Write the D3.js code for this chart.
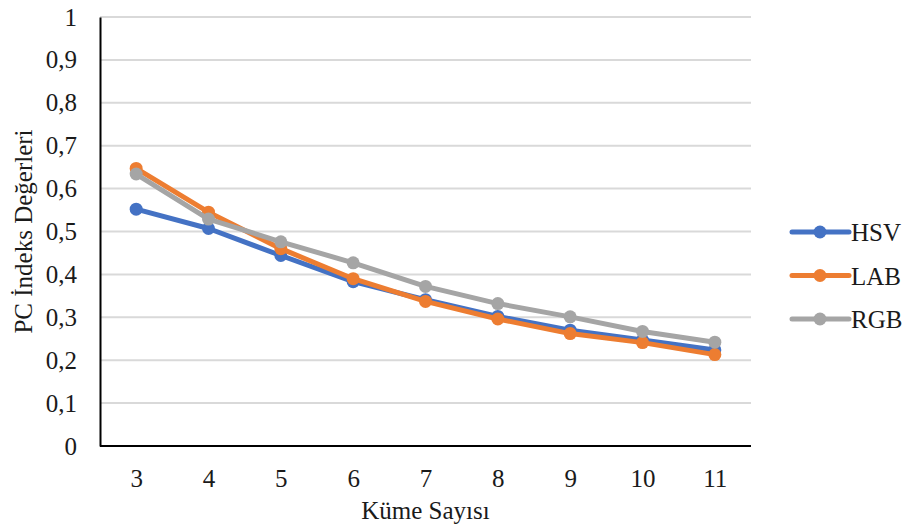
<!DOCTYPE html>
<html>
<head>
<meta charset="utf-8">
<script src="https://cdn.jsdelivr.net/npm/d3@7"></script>
<style>
  body { margin: 0; background: #fff; }
  svg { display: block; }
  svg text { font-family: "Liberation Serif", "Times New Roman", Tinos, "DejaVu Serif", "Noto Serif", serif; }
</style>
</head>
<body>
<svg id="chart" width="909" height="532"></svg>
<script>
// Cluster counts and PC index values per colour space
const categories = ["3", "4", "5", "6", "7", "8", "9", "10", "11"];
const hsv = [0.552, 0.507, 0.444, 0.383, 0.341, 0.302, 0.270, 0.247, 0.224];
const lab = [0.647, 0.545, 0.460, 0.390, 0.337, 0.296, 0.262, 0.241, 0.213];
const rgb = [0.634, 0.529, 0.476, 0.427, 0.372, 0.332, 0.301, 0.267, 0.242];
const yTicks = [0, 0.1, 0.2, 0.3, 0.4, 0.5, 0.6, 0.7, 0.8, 0.9, 1];
const seriesNames = ["HSV", "LAB", "RGB"];
const seriesColors = ["#4472C4", "#ED7D31", "#A5A5A5"];
const seriesValues = [hsv, lab, rgb];

const svg = d3.select("#chart");
const plotLeft = 100, plotRight = 751, plotTop = 17, plotBottom = 446;
const fontSize = 25;
const textColor = "#1a1a1a";

const x = d3.scalePoint().domain(categories).range([plotLeft, plotRight]).padding(0.5);
const y = d3.scaleLinear().domain([0, 1]).range([plotBottom, plotTop]);

// Horizontal gridlines
svg.append("g")
  .selectAll("line")
  .data(yTicks.filter(d => d > 0))
  .join("line")
  .attr("x1", plotLeft).attr("x2", plotRight)
  .attr("y1", d => y(d)).attr("y2", d => y(d))
  .attr("stroke", "#d9d9d9").attr("stroke-width", 2);

// Y axis
const fmt = d => d === 0 ? "0" : d === 1 ? "1" : String(d).replace(".", ",");
const yAxis = svg.append("g")
  .attr("transform", `translate(${plotLeft},0)`)
  .call(d3.axisLeft(y).tickValues(yTicks).tickFormat(fmt).tickSize(0).tickPadding(23));
yAxis.attr("font-family", null);
yAxis.select(".domain").attr("stroke", "#000").attr("stroke-width", 2);
yAxis.selectAll("text").attr("font-size", fontSize).attr("fill", textColor);

// X axis
const xAxis = svg.append("g")
  .attr("transform", `translate(0,${plotBottom})`)
  .call(d3.axisBottom(x).tickSize(0).tickPadding(23));
xAxis.attr("font-family", null);
xAxis.select(".domain").attr("stroke", "#000").attr("stroke-width", 2)
  .attr("d", `M${plotLeft},0H${plotRight}`);
xAxis.selectAll("text").attr("font-size", fontSize).attr("fill", textColor);

// Axis titles
svg.append("text")
  .attr("x", (plotLeft + plotRight) / 2).attr("y", 519)
  .attr("text-anchor", "middle").attr("font-size", fontSize).attr("fill", textColor)
  .text("Küme Sayısı");
svg.append("text")
  .attr("transform", `translate(32,${(plotTop + plotBottom) / 2}) rotate(-90)`)
  .attr("text-anchor", "middle").attr("font-size", fontSize).attr("fill", textColor)
  .text("PC İndeks Değerleri");

// Series lines and markers
const line = d3.line().x((d, i) => x(categories[i])).y(d => y(d));
seriesValues.forEach((vals, s) => {
  const g = svg.append("g");
  g.append("path")
    .datum(vals)
    .attr("d", line)
    .attr("fill", "none")
    .attr("stroke", seriesColors[s])
    .attr("stroke-width", 5)
    .attr("stroke-linejoin", "round")
    .attr("stroke-linecap", "round");
  g.selectAll("circle")
    .data(vals)
    .join("circle")
    .attr("cx", (d, i) => x(categories[i]))
    .attr("cy", d => y(d))
    .attr("r", 6.5)
    .attr("fill", seriesColors[s]);
});

// Legend
const legend = svg.append("g");
seriesNames.forEach((name, i) => {
  const ly = 232 + i * 43.5;
  legend.append("line")
    .attr("x1", 792).attr("x2", 849).attr("y1", ly).attr("y2", ly)
    .attr("stroke", seriesColors[i]).attr("stroke-width", 5)
    .attr("stroke-linecap", "round");
  legend.append("circle")
    .attr("cx", 820).attr("cy", ly).attr("r", 6.5)
    .attr("fill", seriesColors[i]);
  legend.append("text")
    .attr("x", 851).attr("y", ly + 9)
    .attr("font-size", fontSize).attr("fill", textColor)
    .text(name);
});
</script>
</body>
</html>
